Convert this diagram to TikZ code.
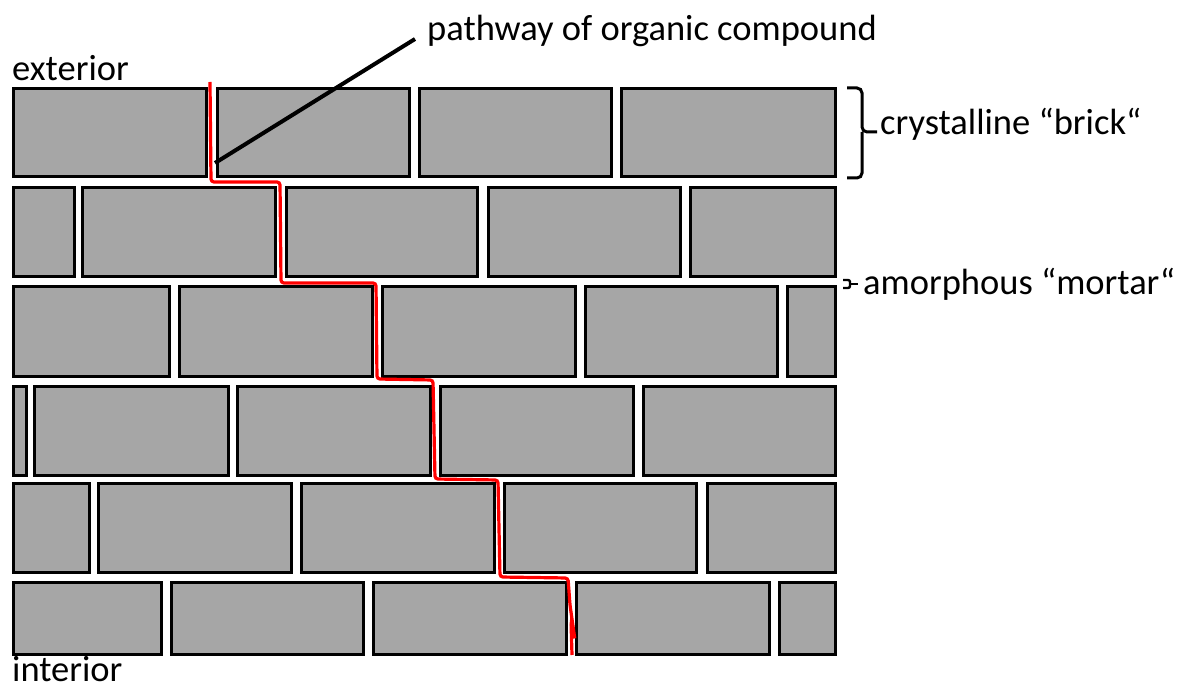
\documentclass[tikz,border=0pt]{standalone}
\usepackage{fontspec}
\setmainfont{Carlito}
\definecolor{brickgrey}{HTML}{A6A6A6}
\definecolor{pathred}{HTML}{FF0000}
\tikzset{
  brick/.style={draw=black, fill=brickgrey, line width=3pt},
  lbl/.style={inner sep=0pt, anchor=base west, font=\fontsize{36.5}{42}\selectfont},
  bracket/.style={draw=black, line width=3pt, rounded corners=5pt},
  pointer/.style={draw=black, line width=4pt},
  route/.style={draw=pathred, line width=3.2pt, rounded corners=3pt}
}
% one course of bricks: top, bottom, list of left/right edges
\newcommand\brickrow[3]{%
  \foreach \l/\r in {#3} {\draw[brick] (\l,#1) rectangle (\r,#2);}}
\begin{document}
\begin{tikzpicture}[x=1pt,y=-1pt]
\useasboundingbox (0,0) rectangle (1180,684);

% wall courses
\brickrow{89}{177}{13/206,217/409,419/611,621/835}
\brickrow{188}{277}{13/74,82/275,286/477,488/680,690/835}
\brickrow{287}{376}{13/169,179/372,382/575,585/777,787/835}
\brickrow{386}{475}{13/26,34/228,237/430,440/633,643/835}
\brickrow{483}{572}{13/89,98/291,301/494,504/696,707/835}
\brickrow{582}{654}{13/161,171/363,373/566,576/769,779/835}

% route of the organic compound through the mortar
\draw[route] (210,82) -- (211,182) -- (280,182) -- (281,283) -- (376,283)
  -- (377,379) -- (433,380) -- (435,479) -- (498,480) -- (500,577)
  -- (568,578) -- (570,605) -- (575,640) -- (571,622) -- (572,655);

% labels
\node[lbl] (pathway) at (427,41) {pathway of organic compound};
\node[lbl] (exterior) at (12,81) {exterior};
\node[lbl] (interior) at (12,681) {interior};
\node[lbl] (brick) at (880,135) {crystalline “brick“};
\node[lbl] (mortar) at (863,295) {amorphous “mortar“};

% leader line from the route to its label
\coordinate (onroute) at (215,163);
\coordinate (pathtip) at (415,39);
\draw[pointer] (onroute) -- (pathtip);

% brace spanning one course
\draw[bracket] (847,88) -- (862,88) -- (862,132) -- (877,132);
\draw[bracket] (847,178) -- (862,178) -- (862,132);

% small brace spanning a mortar joint
\draw[draw=black, line width=2.4pt, rounded corners=2pt]
  (843,280) -- (850,280) -- (850,288) -- (843,288);
\draw[draw=black, line width=2.4pt] (850,284) -- (858,284);
\end{tikzpicture}
\end{document}
